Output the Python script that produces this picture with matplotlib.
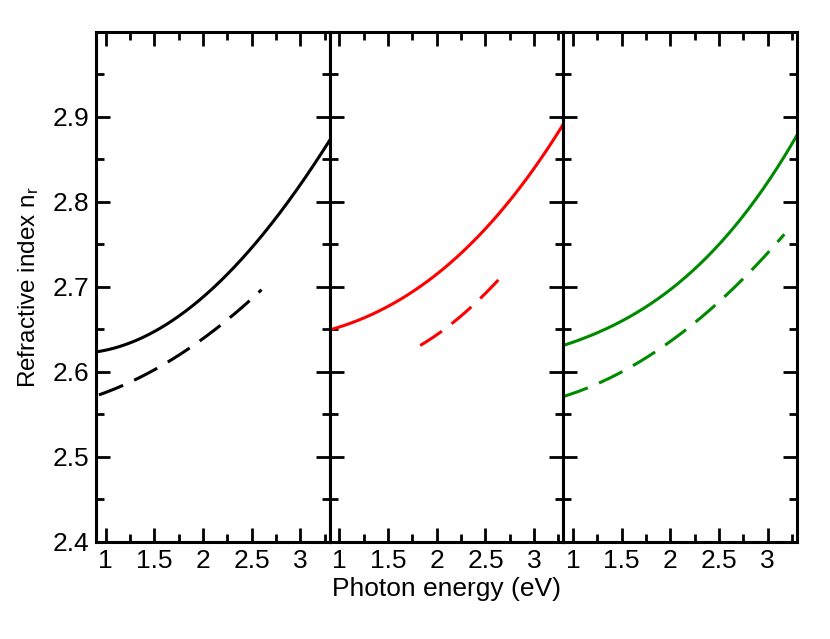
import numpy as np
import matplotlib.pyplot as plt
from matplotlib.ticker import MultipleLocator

plt.rcParams['font.family'] = ['Liberation Sans', 'DejaVu Sans']
plt.rcParams['mathtext.default'] = 'regular'

# values, photon energy (eV) vs refractive index
e_black = [0.9, 1.18, 1.52, 1.87, 2.2, 2.55, 2.89, 3.3]
n_black = [2.622, 2.633, 2.649, 2.675, 2.708, 2.751, 2.806, 2.871]
e_black_d = [0.93, 1.2, 1.49, 1.75, 2.0, 2.34, 2.6]
n_black_d = [2.572, 2.586, 2.602, 2.619, 2.639, 2.669, 2.697]

e_red = [0.9, 1.2, 1.53, 1.8, 2.05, 2.3, 2.56, 2.97, 3.3]
n_red = [2.649, 2.661, 2.679, 2.697, 2.720, 2.745, 2.775, 2.835, 2.891]
e_red_d = [1.83, 2.0, 2.22, 2.45, 2.67]
n_red_d = [2.630, 2.645, 2.662, 2.686, 2.713]

e_green = [0.9, 1.2, 1.55, 1.8, 2.06, 2.3, 2.58, 2.99, 3.3]
n_green = [2.631, 2.643, 2.663, 2.680, 2.702, 2.727, 2.759, 2.822, 2.878]
e_green_d = [0.9, 1.41, 1.92, 2.4, 2.82, 3.17]
n_green_d = [2.570, 2.596, 2.629, 2.671, 2.718, 2.762]

panels = [
    ('black', e_black, n_black, e_black_d, n_black_d),
    ('red', e_red, n_red, e_red_d, n_red_d),
    ('#008a00', e_green, n_green, e_green_d, n_green_d),
]

fig = plt.figure(figsize=(8.3, 6.39), dpi=100)
left, right, bottom, top = 0.1157, 0.9602, 0.1523, 0.9504
w = (right - left) / 3

for i, (col, e, n, ed, nd) in enumerate(panels):
    ax = fig.add_axes([left + i * w, bottom, w, top - bottom])
    # smooth the read points a bit with a low order fit
    es = np.linspace(min(e), max(e), 200)
    ax.plot(es, np.polyval(np.polyfit(e, n, 3), es), color=col, lw=2.2)
    eds = np.linspace(min(ed), max(ed), 200)
    ax.plot(eds, np.polyval(np.polyfit(ed, nd, 2), eds), color=col, lw=2.2,
            dashes=(8.5, 4))
    ax.set_xlim(0.9, 3.3)
    ax.set_ylim(2.4, 3.0)
    ax.set_xticks([1, 1.5, 2, 2.5, 3])
    ax.set_xticklabels(['1', '1.5', '2', '2.5', '3'])
    ax.xaxis.set_minor_locator(MultipleLocator(0.25))
    ax.set_yticks([2.4, 2.5, 2.6, 2.7, 2.8, 2.9])
    ax.yaxis.set_minor_locator(MultipleLocator(0.05))
    ax.tick_params(which='both', direction='in', top=True, right=True,
                   width=2.0, labelsize=19, pad=5)
    ax.tick_params(which='major', length=10)
    ax.tick_params(which='minor', length=5.5)
    for s in ax.spines.values():
        s.set_linewidth(2.2)
    if i == 0:
        ax.set_yticklabels(['2.4', '2.5', '2.6', '2.7', '2.8', '2.9'])
        ax.set_ylabel('Refractive index n$_r$', fontsize=17.5, labelpad=8)
    else:
        ax.set_yticklabels([])

fig.text(left + 1.5 * w, 0.079, 'Photon energy (eV)', fontsize=19,
         ha='center', va='center')

fig.savefig('out.png', dpi=100)
